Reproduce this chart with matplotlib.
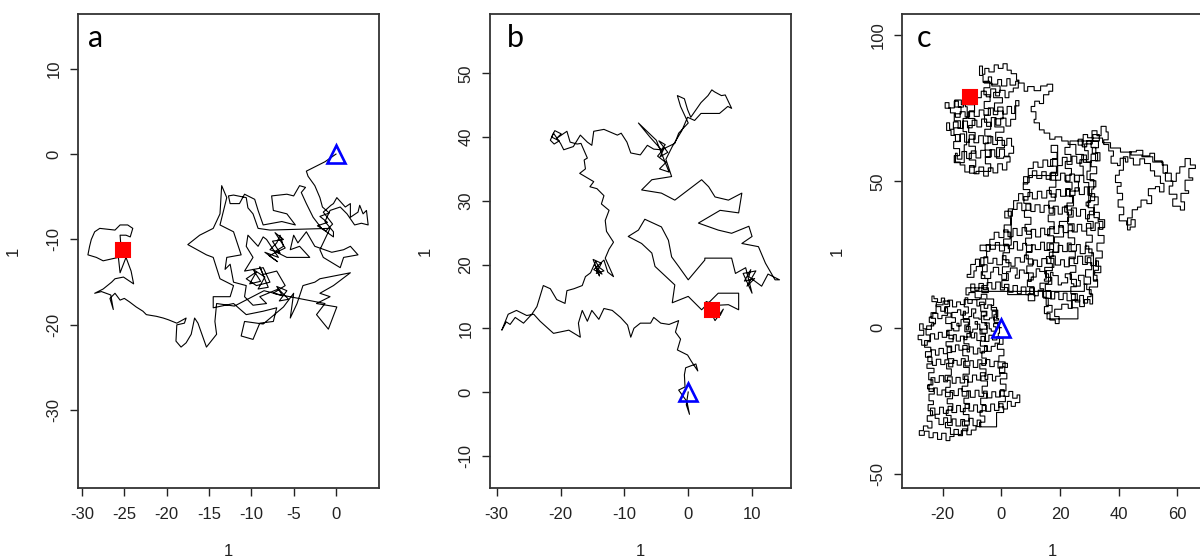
import numpy as np
import matplotlib
matplotlib.use("Agg")
import matplotlib.pyplot as plt

plt.rcParams["axes.unicode_minus"] = False

# ---- data (x, y) ----
walk_a = [
    (0, 0), (-1.3, -0.9), (-3.5, -2.0), (-3.3, -2.6), (-2.5, -3.7), (-1.9, -5.1), (-1.6, -6.2),
    (-0.8, -6.9), (-1.9, -7.3), (-1.0, -8.0), (-2.2, -8.4), (-1.2, -9.0), (-0.4, -8.2),
    (-1.5, -6.8), (-0.6, -6.0),
    (-0.3, -5.8), (0.1, -5.1), (1.1, -6.2), (1.7, -5.8), (1.7, -7.4), (2.6, -6.8), (2.8, -6.0),
    (3.2, -7.0), (3.6, -6.6), (3.8, -8.3), (3.0, -8.1), (2.2, -8.3), (1.3, -7.0), (0.5, -6.2),
    (-0.7, -6.6), (-1.3, -7.9), (-0.3, -9.1), (-0.3, -9.7), (-1.7, -8.7), (-2.7, -7.4),
    (-3.5, -5.8), (-4.1, -4.5), (-3.6, -3.9), (-4.3, -3.7), (-5.0, -4.9), (-5.8, -4.7),
    (-7.6, -4.9), (-7.4, -6.6), (-5.8, -7.0), (-4.8, -8.3), (-6.4, -7.9), (-8.6, -8.3),
    (-9.2, -6.6), (-9.6, -5.3), (-10.8, -4.7), (-11.4, -5.8), (-12.5, -5.8), (-12.7, -4.9),
    (-12.1, -4.8), (-10.6, -5.1), (-10.4, -6.3), (-9.8, -7.0), (-9.2, -8.7), (-7.8, -8.9),
    (-0.7, -8.7), (-1.9, -11.2), (-1.5, -12.1), (0.5, -13.3), (0.9, -12.1), (2.6, -11.8),
    (1.7, -10.8), (0.9, -11.2), (-0.5, -11.5), (-2.5, -10.8), (-3.5, -9.1), (-4.5, -10.4),
    (-5.0, -9.5), (-5.4, -11.2), (-4.3, -10.8), (-3.1, -12.1), (-5.8, -12.1), (-7.2, -11.4),
    (-6.2, -10.8), (-6.6, -9.5), (-7.0, -10.4), (-7.8, -11.2),
    (-6.6, -11.6), (-7.5, -10.2), (-6.2, -10.0), (-7.2, -9.2), (-6.0, -11.0), (-7.9, -11.9),
    (-6.9, -12.6), (-8.4, -11.5),
    (-6.8, -12.1), (-8.2, -10.0),
    (-8.6, -9.7), (-9.2, -10.8), (-10.4, -9.5), (-10.6, -10.8), (-9.8, -12.1), (-10.8, -13.7),
    (-8.6, -13.3), (-7.8, -15.0), (-9.4, -15.4), (-10.6, -14.6),
    (-9.4, -13.8), (-10.2, -15.2), (-8.9, -14.9), (-9.8, -13.5), (-8.4, -14.4), (-9.2, -15.8),
    (-8.0, -15.6), (-9.0, -13.2),
    (-8.6, -14.1), (-7.0, -13.7), (-6.0, -15.4), (-7.4, -16.3),
    (-6.3, -16.6), (-7.0, -15.5), (-5.8, -16.0), (-6.7, -17.2), (-5.6, -17.0), (-6.8, -15.8),
    (-9.0, -16.7), (-8.2, -17.5), (-9.8, -17.7), (-10.8, -16.7),
    (-10.6, -15.4), (-12.1, -15.0), (-12.5, -12.9), (-13.1, -13.5), (-12.9, -12.1),
    (-11.2, -11.8), (-12.1, -9.1), (-13.7, -8.3), (-12.9, -5.1), (-13.5, -3.7), (-13.7, -7.0),
    (-14.5, -8.7), (-16.1, -9.5), (-17.5, -10.6), (-15.3, -11.8), (-14.5, -12.1),
    (-13.7, -14.6), (-12.1, -15.4), (-12.5, -16.7), (-14.5, -16.7), (-14.5, -18.0),
    (-12.1, -17.5), (-10.6, -18.8), (-8.6, -18.4), (-7.0, -18.0), (-7.4, -19.6), (-9.0, -19.8),
    (-9.8, -21.7), (-11.2, -21.3), (-10.8, -19.6), (-8.6, -19.9), (-6.2, -17.9), (-5.0, -16.3),
    (-5.4, -19.2), (-4.6, -17.5), (-3.9, -15.4), (-2.5, -15.0), (-1.9, -14.6), (1.7, -13.9),
    (-0.3, -15.4), (-1.9, -16.3), (-0.7, -16.7), (-2.3, -17.5), (0.1, -17.9), (-0.9, -20.5),
    (-2.3, -18.8), (-1.3, -17.5), (-6.5, -16.5), (-8.5, -16.0), (-12.0, -17.8),
    (-14.1, -17.5), (-14.3, -19.6), (-14.1, -21.1), (-15.3, -22.6), (-15.9, -20.9),
    (-16.3, -19.8), (-16.7, -19.2), (-17.1, -21.1), (-17.7, -22.1), (-18.3, -22.6),
    (-18.9, -21.9), (-18.8, -20.0), (-17.9, -19.8), (-17.7, -19.2), (-18.8, -19.8),
    (-19.8, -19.4), (-20.4, -19.2), (-21.2, -19.0), (-22.4, -18.8), (-22.8, -18.4),
    (-23.6, -17.9), (-24.4, -17.3), (-25.0, -16.9), (-25.5, -17.1), (-26.1, -16.3),
    (-26.7, -16.9), (-26.3, -18.2), (-26.6, -16.5), (-27.7, -16.1), (-28.5, -16.3),
    (-27.5, -15.8), (-26.5, -15.0), (-26.1, -14.6), (-25.1, -14.4), (-23.9, -15.2),
    (-24.2, -13.7), (-24.8, -12.1), (-25.5, -13.9), (-25.7, -12.1), (-27.5, -12.5),
    (-28.3, -12.1), (-29.3, -11.8), (-29.1, -10.8), (-28.9, -10.0), (-28.5, -9.1),
    (-27.9, -8.7), (-26.1, -8.9), (-25.5, -8.3), (-24.6, -8.3), (-24.0, -8.7), (-24.3, -9.7),
    (-24.8, -9.5), (-25.5, -9.5), (-25.4, -10.8), (-25.2, -11.2),
]

walk_b = [
    (0, 0), (-0.3, -2), (0.2, -3.5), (-0.2, -1.5), (-1.5, 0.3), (-0.5, 0.8), (-0.6, 2.7),
    (-0.4, 3.8), (1.2, 4.4), (1.5, 3.3), (0.5, 4.8), (-0.1, 5.8), (-1.7, 6.6), (-1.2, 8.3),
    (-2.0, 9.4), (-1.5, 11.2), (-3.0, 10.6), (-4.3, 10.8), (-5.4, 11.7), (-5.9, 10.8),
    (-7.5, 10.8), (-8.5, 10.0), (-9.0, 8.6), (-9.5, 10.5), (-10.6, 11.7), (-11.9, 12.8),
    (-13.2, 13.1), (-14.0, 11.4), (-15.1, 12.8), (-15.8, 11.1), (-16.6, 12.8), (-17.2, 10.8),
    (-16.9, 8.6), (-18.7, 9.7), (-21.1, 9.2), (-23.2, 11.1), (-24.2, 12.2), (-25.3, 12.0),
    (-26.9, 12.8), (-28.2, 12.2), (-29.2, 9.7), (-28.5, 11.0), (-27.9, 10.6), (-27.1, 11.7),
    (-25.8, 10.8), (-24.5, 12.2), (-23.7, 13.4), (-22.7, 16.7), (-21.6, 16.2), (-20.6, 14.5),
    (-19.3, 13.9), (-19.0, 15.9), (-17.9, 16.2), (-16.6, 16.7), (-16.1, 18.1), (-15.3, 18.7),
    (-14.5, 20.5), (-14.0, 19.6), (-13.2, 19.0), (-14.4, 18.6), (-13.6, 20.2), (-14.9, 20.8),
    (-13.9, 18.2), (-14.6, 19.9), (-13.5, 18.5), (-14.8, 19.2), (-13.2, 20.7), (-12.6, 18.8),
    (-11.7, 18.1), (-13.0, 21.0), (-12.4, 22.4), (-11.7, 23.5), (-12.8, 25.2), (-13.0, 26.9),
    (-12.4, 28.5), (-13.6, 29.5), (-13.2, 30.8), (-14.3, 31.9), (-15.4, 32.2), (-14.8, 33.0),
    (-17.0, 34.3), (-16.1, 35.0), (-16.3, 36.4), (-15.8, 36.7), (-16.8, 39.0), (-17.4, 38.9),
    (-18.5, 39.2), (-19.0, 40.9), (-20.6, 39.8), (-19.9, 40.5), (-20.9, 41.0), (-21.4, 40.0),
    (-20.2, 39.4), (-21.0, 38.9), (-21.6, 39.5), (-21.1, 40.6), (-20.0, 39.0),
    (-19.5, 38.0), (-18.0, 38.5), (-16.9, 40.3), (-15.8, 39.2), (-15.1, 38.7), (-14.8, 40.9),
    (-13.2, 41.2), (-11.1, 40.3), (-10.5, 40.6), (-9.6, 39.2), (-9.0, 37.5), (-7.5, 37.2),
    (-6.4, 38.7), (-5.4, 38.1), (-4.2, 38.0), (-3.6, 38.8), (-4.6, 39.4), (-3.2, 37.6),
    (-4.4, 36.9), (-3.8, 38.2), (-4.8, 37.0), (-3.5, 36.0), (-4.5, 35.0),
    (-3.0, 34.5), (-5.0, 39.5), (-7.8, 42.2), (-6.0, 40.0), (-4.2, 38.0), (-2.1, 39.0),
    (-1.5, 40.6), (0.0, 42.2), (-1.2, 44.8), (-1.7, 46.5), (-0.6, 46.0), (-0.1, 44.3),
    (0.4, 43.1), (2.0, 45.4), (3.1, 46.5), (3.7, 47.4), (4.1, 47.1), (5.2, 46.5), (5.8, 46.6),
    (6.8, 44.5), (6.2, 44.8), (4.9, 43.7), (2.0, 43.7), (1.0, 42.6), (-0.1, 43.1), (-1.0, 41.0),
    (-2.5, 38.5), (-3.5, 36.5), (-2.6, 33.8), (-5.7, 33.3), (-7.3, 31.7), (-4.2, 31.2),
    (-2.1, 30.1), (0.0, 31.7), (2.1, 33.3), (3.2, 32.2), (4.2, 30.6), (6.3, 30.1), (8.4, 31.2),
    (7.9, 28.1), (5.0, 28.5), (1.6, 26.5), (4.7, 25.4), (6.8, 24.9), (9.5, 26.0), (10.0, 24.4),
    (8.4, 23.3), (11.0, 22.8), (12.1, 20.2), (13.6, 17.6), (14.3, 17.6), (12.5, 18.5),
    (11.5, 16.6), (9.5, 18.1), (9.8, 19.2), (8.8, 17.4), (10.4, 17.8), (9.2, 16.6),
    (10.6, 19.0), (8.6, 18.6), (10.0, 15.5), (9.0, 19.5), (7.4, 18.6), (6.8, 21.0), (2.6, 21.0),
    (2.6, 20.7), (0.0, 17.6), (-1.5, 19.7), (-2.6, 21.2), (-3.1, 23.8), (-4.2, 25.9),
    (-6.8, 27.1), (-7.8, 25.4), (-9.4, 24.4), (-7.3, 23.3), (-5.7, 21.8), (-5.2, 19.7),
    (-2.1, 16.8), (-2.5, 14.0), (0.0, 15.0), (2.1, 12.9), (4.7, 15.5), (7.9, 15.5), (7.9, 12.9),
    (6.3, 13.7), (4.5, 13.6), (2.8, 14.2), (3.2, 11.8), (4.8, 12.2), (3.0, 13.6), (4.2, 11.2),
    (5.5, 13.0), (5.0, 12.0), (3.7, 12.8),
]

# panel c is a lattice walk: corners of its horizontal/vertical steps
walk_c = [
    # lower-left blob, east-west passes
    (0, 0), (-1.2, 1.4), (-2.6, 0.3), (-1.8, -1.2), (-3.4, -0.4), (-4.1, 1.6), (-5.5, 0.8),
    (-4.8, -1.9), (-6.6, -0.7), (-7.3, 1.2), (-8.9, 2.1), (-8.1, -0.5), (-9.7, -1.6),
    (-10.6, 0.4), (-11.9, -0.8), (-11.2, 1.9), (-12.8, 2.8), (-13.7, 0.6), (-15.1, 1.5),
    (-14.4, -1.1), (-16.2, -0.3), (-17.0, 1.8),
    (-15.6, 3.4), (-16.8, 5.2), (-14.9, 6.1), (-13.8, 4.3), (-12.2, 5.6), (-12.9, 3.1),
    (-11.0, 3.8), (-10.1, 6.4), (-8.7, 5.0), (-9.4, 3.3), (-7.6, 2.9), (-6.8, 5.4), (-5.1, 4.2),
    (-5.9, 2.7), (-4.0, 3.3), (-3.1, 5.6), (-1.8, 4.4), (-2.5, 2.6), (-0.9, 3.1),
    (-1.6, 6.9), (-3.3, 7.8), (-4.6, 6.6), (-5.8, 8.7), (-7.4, 7.4), (-8.3, 9.6), (-9.9, 8.3),
    (-11.4, 10.2), (-12.3, 7.9), (-13.9, 8.8), (-15.2, 7.1), (-16.6, 9.4), (-18.1, 8.0),
    (-19.3, 10.1), (-20.4, 8.6), (-21.7, 9.9), (-22.9, 10.8), (-23.6, 8.9), (-22.1, 7.2),
    (-20.6, 5.6), (-19.1, 6.8), (-18.3, 4.2), (-20.2, 3.1), (-21.6, 4.9), (-23.3, 3.6),
    (-24.5, 1.8), (-23.0, 0.6), (-25.4, -0.4), (-26.6, 1.3), (-27.8, -0.9), (-26.4, -2.6),
    (-28.3, -4.1), (-27.1, -6.0), (-25.2, -4.8),
    (-24.1, -2.1), (-22.7, -3.9), (-21.4, -1.6), (-20.1, -3.3), (-18.6, -1.2), (-17.8, -3.8),
    (-16.2, -2.4), (-15.3, -4.6), (-13.9, -2.9), (-12.6, -4.1), (-11.7, -2.0), (-10.2, -3.5),
    (-9.1, -1.8), (-8.3, -4.4), (-6.9, -3.0), (-5.6, -4.7), (-4.2, -2.6), (-3.0, -4.2),
    (-1.5, -3.1), (-0.6, -5.3),
    (-2.1, -6.4), (-3.4, -8.1), (-4.8, -6.2), (-5.7, -8.6), (-7.2, -7.0), (-8.0, -9.0),
    (-9.5, -6.6), (-10.8, -8.3), (-11.6, -6.1), (-13.1, -7.7), (-14.4, -5.9), (-15.6, -8.2),
    (-17.1, -6.6), (-18.4, -8.9), (-19.7, -7.1), (-21.2, -9.4), (-22.4, -7.6), (-23.8, -9.8),
    (-25.0, -11.6),
    (-23.4, -12.9), (-22.1, -10.8), (-20.6, -12.6), (-19.2, -11.0), (-17.9, -13.4),
    (-16.5, -11.2), (-15.0, -12.8), (-13.6, -10.6), (-12.3, -13.1), (-10.7, -11.3),
    (-9.5, -13.6), (-8.0, -11.0), (-6.6, -12.9), (-5.3, -10.9), (-3.9, -13.3), (-2.4, -11.5),
    (-1.1, -13.8), (0.5, -12.2), (2.1, -13.6), (1.2, -15.4),
    (-0.4, -16.6), (-1.9, -18.2), (-3.0, -16.0), (-4.6, -17.7), (-5.5, -15.4), (-7.1, -17.9),
    (-8.4, -16.2), (-9.8, -18.6), (-11.3, -16.5), (-12.5, -18.9), (-14.0, -17.0),
    (-15.4, -19.0), (-16.7, -16.8), (-18.3, -18.5), (-19.6, -16.4), (-21.1, -18.7),
    (-22.6, -17.1), (-23.9, -19.4), (-24.6, -21.8),
    (-23.1, -20.6), (-21.8, -23.0), (-20.2, -21.3), (-19.0, -23.6), (-17.4, -21.5),
    (-16.1, -23.2), (-14.6, -20.9), (-13.3, -23.4), (-11.7, -21.6), (-10.5, -23.8),
    (-8.9, -21.4), (-7.6, -23.5), (-6.0, -21.7), (-4.8, -24.0), (-3.2, -21.9), (-1.9, -23.7),
    (-0.3, -21.2), (1.0, -23.5), (2.6, -21.8), (3.9, -24.1), (5.4, -23.0), (6.3, -25.6),
    (4.8, -26.9), (3.4, -25.2), (2.1, -27.8), (0.6, -26.0), (-0.8, -28.3), (-2.3, -26.1),
    (-3.6, -28.6), (-5.2, -26.6), (-6.5, -28.9), (-8.1, -26.4), (-9.4, -28.5), (-11.0, -26.2),
    (-12.3, -28.7), (-13.9, -26.6), (-15.2, -29.0), (-16.8, -26.9), (-18.1, -29.3),
    (-19.7, -27.2), (-21.0, -29.6), (-22.6, -27.5), (-24.1, -29.9),
    (-22.5, -31.0), (-21.2, -33.1), (-19.6, -30.8), (-18.3, -33.4), (-16.7, -31.2),
    (-15.4, -33.6), (-13.8, -31.4), (-12.5, -33.3), (-10.9, -31.0), (-9.6, -33.5),
    (-8.2, -31.6), (-7.0, -33.8),
    (-8.6, -35.0), (-10.2, -36.6), (-11.7, -34.6), (-13.2, -36.9), (-14.6, -34.8),
    (-16.1, -37.2), (-17.5, -38.6), (-18.8, -36.1), (-20.3, -38.2), (-21.7, -35.9),
    (-23.2, -37.6), (-24.6, -35.4), (-26.2, -36.8), (-27.9, -35.2), (-26.5, -33.6),
    (-25.0, -34.3),
    # lower-left blob, north-south passes
    (-23.6, -32.0), (-25.2, -30.1), (-23.4, -28.4), (-24.9, -26.3), (-23.1, -25.0),
    (-24.6, -22.7), (-22.8, -20.9), (-25.1, -19.6), (-23.3, -17.8), (-24.7, -15.4),
    (-22.9, -13.9), (-25.3, -12.4), (-23.6, -10.1), (-25.8, -8.2), (-24.0, -6.7),
    (-26.1, -4.4), (-24.3, -2.5), (-25.6, -0.6), (-23.8, 1.3), (-22.4, 3.2), (-23.9, 5.1),
    (-22.2, 7.8),
    (-19.8, 9.1), (-17.6, 7.2), (-19.2, 5.0), (-17.1, 3.6), (-18.9, 1.4), (-16.8, -0.9),
    (-18.5, -2.6), (-16.4, -4.8), (-18.8, -6.3), (-16.9, -8.5), (-18.3, -10.6), (-16.2, -12.2),
    (-18.6, -14.1), (-17.0, -16.3), (-19.1, -18.0), (-17.4, -20.4), (-18.9, -22.1),
    (-16.6, -24.3), (-18.4, -26.0), (-16.5, -28.2), (-18.7, -30.0), (-17.1, -32.4),
    (-19.0, -34.2), (-17.3, -36.5),
    (-13.6, -35.2), (-11.4, -33.6), (-13.2, -31.9), (-11.0, -29.7), (-12.9, -27.6),
    (-10.8, -25.9), (-12.7, -24.1), (-11.1, -21.8), (-13.3, -20.0), (-11.4, -17.7),
    (-13.0, -15.9), (-10.9, -13.6), (-12.8, -11.5), (-11.2, -9.6), (-13.1, -7.4),
    (-11.0, -5.5), (-12.7, -3.2), (-10.6, -1.4), (-12.4, 0.9), (-10.8, 2.8), (-12.9, 5.0),
    (-11.2, 7.1), (-12.6, 9.6),
    (-7.4, 9.8), (-5.3, 7.9), (-7.0, 5.6), (-4.9, 4.0), (-6.7, 1.7), (-5.0, -0.5), (-7.2, -2.2),
    (-5.4, -4.6), (-7.1, -6.3), (-4.8, -8.1), (-6.6, -10.4), (-5.1, -12.3), (-7.3, -14.1),
    (-5.2, -16.5), (-6.9, -18.2), (-4.7, -20.0), (-6.5, -22.4), (-4.9, -24.1), (-7.0, -26.3),
    (-5.3, -28.4), (-7.2, -30.2), (-5.6, -32.3), (-7.4, -33.9),
    (-1.6, -29.0), (0.8, -27.1), (-0.9, -25.3), (1.4, -23.4), (-0.5, -21.6), (1.6, -19.3),
    (-0.3, -17.5), (1.9, -15.6), (-0.6, -13.4), (1.3, -11.7), (-0.8, -9.6), (0.9, -7.4),
    (-1.3, -5.7), (0.6, -3.6), (-1.0, -1.9),
    (-0.6, 1.8), (-2.4, 3.6), (-1.2, 6.0), (-3.4, 7.6), (-2.6, 9.8), (-4.9, 11.4), (-6.8, 10.2),
    (-8.9, 12.0), (-11.0, 11.2), (-12.0, 13.6),
    # diagonal band, north-south passes
    (-4.4, 12.0), (-6.6, 14.4), (-4.6, 16.8), (-6.8, 19.1), (-4.8, 21.5), (-7.0, 23.9),
    (-5.0, 26.3), (-7.2, 28.2),
    (3.4, 39.8), (1.2, 37.5), (3.2, 35.1), (1.0, 32.7), (3.0, 30.3), (0.8, 28.0), (2.8, 25.6),
    (0.6, 23.2), (2.6, 20.8), (0.4, 18.5), (2.4, 16.1), (0.2, 13.7), (2.2, 11.3),
    (11.4, 9.2), (9.2, 11.6), (11.1, 14.0), (8.9, 16.3), (10.9, 18.7), (8.7, 21.1), (10.7, 23.5),
    (8.5, 25.8), (10.5, 28.2), (8.3, 30.6), (10.3, 33.0), (8.1, 35.3), (10.1, 37.7),
    (7.9, 40.1), (9.9, 42.5), (7.7, 44.8), (9.7, 47.2), (7.5, 49.6), (9.5, 52.0),
    (19.2, 62.3), (17.0, 59.9), (19.0, 57.5), (16.8, 55.2), (18.8, 52.8), (16.6, 50.4),
    (18.6, 48.0), (16.4, 45.7), (18.4, 43.3), (16.2, 40.9), (18.2, 38.5), (16.0, 36.2),
    (18.0, 33.8), (15.8, 31.4), (17.8, 29.0), (15.6, 26.7), (17.6, 24.3), (15.4, 21.9),
    (17.4, 19.5), (15.2, 17.2), (17.2, 14.8), (15.0, 12.4), (17.0, 10.0), (15.3, 7.6),
    (17.3, 5.3), (15.6, 3.0),
    (26.1, 6.8), (24.0, 9.4), (25.9, 11.6), (23.7, 14.0), (25.6, 16.5), (23.5, 18.9),
    (25.4, 21.2), (23.2, 23.6), (25.2, 26.0), (23.0, 28.4), (25.0, 30.7), (22.8, 33.1),
    (24.8, 35.5), (22.6, 37.8), (24.5, 40.2), (22.4, 42.6), (24.3, 45.0), (22.2, 47.3),
    (24.1, 49.7), (22.0, 52.1), (23.9, 54.4), (21.8, 56.8), (23.7, 59.2), (21.7, 61.6),
    (23.4, 63.8),
    (33.4, 66.0), (31.2, 63.7), (33.1, 61.5), (31.0, 59.6), (32.8, 57.1), (30.6, 55.0),
    (32.5, 52.6), (30.3, 50.2), (32.2, 48.1), (29.9, 45.8), (31.8, 43.4), (29.6, 41.0),
    (31.6, 38.6), (29.4, 36.3), (31.3, 34.0), (29.1, 31.6), (31.0, 29.2), (28.8, 26.9),
    (30.9, 24.5), (28.6, 22.2), (30.8, 19.8), (28.7, 17.3), (30.4, 14.9), (28.3, 12.4),
    # diagonal band, east-west passes
    (-10.4, 14.9), (-9.0, 12.8), (-7.6, 15.1), (-6.1, 13.0), (-4.8, 15.4), (-3.2, 13.2),
    (-1.9, 15.6), (-0.3, 12.9), (1.1, 14.8), (2.6, 12.1), (4.0, 14.4), (5.5, 11.6), (6.8, 13.9),
    (8.4, 11.3), (9.7, 13.6), (11.2, 10.9), (12.6, 12.8), (14.1, 10.4), (15.3, 12.6),
    (16.8, 9.8), (18.2, 12.1), (19.6, 9.6), (21.1, 11.8), (22.4, 9.2), (23.9, 11.5),
    (25.2, 8.8), (26.7, 11.0), (28.0, 8.4), (29.4, 10.6), (30.6, 13.0),
    (29.1, 14.8), (28.2, 17.9), (26.3, 16.1), (26.9, 14.2), (24.7, 15.0), (23.9, 18.4),
    (21.8, 17.1), (22.6, 15.3), (20.5, 14.6), (19.4, 17.8), (17.6, 18.9), (16.8, 15.9),
    (14.7, 16.6), (15.3, 19.2), (13.1, 20.1), (11.9, 17.3), (10.2, 15.8), (9.3, 18.6),
    (7.8, 19.7), (6.2, 16.9), (4.8, 18.0), (5.4, 20.4), (3.1, 19.1), (1.8, 16.5), (0.2, 18.1),
    (-0.9, 20.6), (-2.7, 19.0), (-3.6, 16.8), (-5.6, 17.9), (-6.4, 20.9), (-8.5, 19.4),
    (-9.3, 17.2), (-11.6, 18.2),
    (-10.4, 21.6), (-8.8, 23.4), (-7.4, 21.1), (-5.9, 24.2), (-4.6, 22.0), (-2.8, 23.7),
    (-1.5, 21.5), (0.4, 24.6), (1.6, 22.2), (3.3, 21.0), (4.7, 23.9), (6.5, 22.4), (7.9, 24.8),
    (9.2, 21.7), (11.0, 23.1), (12.3, 20.9), (13.8, 23.6), (15.6, 22.0), (16.9, 24.5),
    (18.4, 21.4), (20.2, 23.2), (21.5, 20.8), (23.1, 24.1), (24.8, 21.9), (26.0, 24.4),
    (27.7, 21.6), (29.3, 23.9), (30.5, 21.2), (32.3, 22.8), (33.1, 19.6), (31.8, 17.9),
    (32.6, 15.9),
    (31.4, 25.6), (29.8, 27.9), (28.6, 25.3), (26.9, 28.4), (25.6, 26.2), (23.8, 28.9),
    (22.5, 26.0), (20.9, 28.1), (19.4, 25.7), (17.8, 28.6), (16.5, 26.4), (14.7, 29.2),
    (13.4, 26.7), (11.6, 28.3), (10.3, 25.9), (8.6, 28.8), (7.3, 26.5), (5.5, 29.4), (4.2, 27.0),
    (2.4, 28.5), (1.1, 26.2), (-0.6, 29.1), (-2.0, 26.8), (-3.7, 28.4), (-5.1, 26.1),
    (-3.9, 30.2), (-2.4, 32.6), (-0.8, 30.8), (0.9, 33.4), (2.3, 31.1), (4.0, 33.9), (5.4, 31.5),
    (7.1, 34.2), (8.6, 31.9), (10.2, 33.6), (11.7, 31.0), (13.4, 34.0), (14.8, 31.8),
    (16.5, 34.5), (18.0, 32.2), (19.6, 34.9), (21.1, 32.5), (22.8, 35.1), (24.2, 32.7),
    (25.9, 35.3), (27.4, 33.0), (29.0, 35.6), (30.5, 33.2), (32.0, 35.8), (33.4, 33.6),
    (34.6, 36.3),
    (33.0, 37.6), (31.6, 39.8), (30.0, 37.2), (28.7, 40.4), (27.0, 38.1), (25.6, 40.9),
    (23.9, 38.5), (22.5, 41.2), (20.8, 38.8), (19.4, 41.5), (17.7, 39.1), (16.3, 41.8),
    (14.6, 39.4), (13.2, 42.0), (11.5, 39.7), (10.1, 42.3), (8.4, 40.0), (7.0, 42.6),
    (5.4, 40.4), (3.8, 38.1), (2.4, 40.6),
    (4.2, 43.4), (5.9, 45.8), (7.4, 43.6), (9.1, 46.2), (10.6, 44.0), (12.3, 46.6), (13.8, 44.3),
    (15.5, 46.9), (17.0, 44.6), (18.7, 47.2), (20.2, 44.9), (21.9, 47.5), (23.4, 45.2),
    (25.1, 47.8), (26.6, 45.5), (28.3, 48.1), (29.5, 45.3), (30.4, 42.9), (28.9, 41.6),
    (29.8, 49.6), (28.1, 52.0), (26.6, 49.8), (24.9, 52.5), (23.4, 50.1), (21.7, 52.8),
    (20.2, 50.4), (18.5, 53.1), (17.0, 50.7), (15.3, 53.3), (13.8, 51.0), (12.1, 53.6),
    (10.6, 51.3), (9.0, 49.1), (7.6, 51.6),
    (9.2, 54.4), (10.9, 56.6), (12.5, 54.8), (14.2, 57.3), (15.8, 55.1), (17.5, 57.8),
    (19.1, 55.4), (20.8, 58.2), (22.4, 55.8), (24.1, 58.6), (25.7, 56.2), (27.4, 59.0),
    (29.0, 56.6), (30.6, 59.3), (32.1, 57.0), (33.6, 59.8),
    (32.2, 61.6), (30.6, 63.9), (29.1, 61.8), (27.6, 64.4), (26.2, 62.4), (27.9, 66.0),
    (29.4, 64.9), (30.9, 67.3), (32.6, 65.6), (34.0, 68.8), (35.7, 66.9), (36.4, 64.2),
    (34.9, 62.6), (36.6, 60.4),
    # right lobe
    (38.2, 58.6), (37.4, 56.2), (39.6, 55.4), (40.5, 57.9), (42.3, 56.6), (43.1, 58.4),
    (41.6, 53.8), (40.2, 52.1), (38.9, 49.6), (40.8, 48.3), (39.5, 45.9), (41.3, 43.7),
    (39.8, 41.2), (41.7, 38.6), (40.2, 36.5), (42.7, 35.1), (44.2, 36.9), (45.6, 34.4),
    (43.9, 33.4), (43.0, 37.5), (44.6, 40.3), (46.4, 41.2), (47.6, 43.6), (49.6, 42.4),
    (51.2, 45.1), (50.1, 47.5), (52.5, 48.2), (53.9, 46.4), (55.4, 49.3), (54.2, 51.8),
    (52.2, 53.6), (50.8, 56.1), (48.8, 57.7), (47.2, 55.6), (45.0, 57.9), (43.8, 60.1),
    (46.0, 60.6), (48.2, 58.7), (50.6, 59.6), (52.2, 57.0), (54.8, 55.6), (56.6, 53.0),
    (55.9, 50.1), (58.4, 48.4), (57.2, 45.6), (59.8, 44.0), (58.4, 41.5), (61.0, 40.2),
    (62.4, 43.0), (61.2, 45.9), (63.8, 46.8), (62.6, 50.4), (65.2, 51.2), (63.9, 54.4),
    (66.1, 55.6), (64.4, 57.8), (62.6, 55.0), (60.8, 52.8), (59.6, 50.0), (57.9, 52.8),
    (55.1, 56.6), (51.6, 58.4), (47.9, 59.0), (44.2, 60.0), (40.6, 61.4), (37.2, 63.2),
    # band again, down the middle and up the right edge
    (34.5, 64.8), (31.0, 62.8), (28.4, 60.5), (29.6, 57.4), (26.8, 55.2), (27.9, 52.1),
    (25.0, 50.0), (26.3, 46.7), (23.3, 44.8), (24.6, 41.6), (21.6, 39.5), (22.9, 36.3),
    (19.8, 34.4), (21.2, 31.0), (18.1, 29.0), (19.6, 25.8), (16.4, 23.7), (17.9, 20.6),
    (14.8, 18.4), (16.1, 15.2), (13.2, 13.3), (14.4, 10.1), (16.0, 7.2), (14.7, 4.8),
    (16.6, 2.6), (18.4, 1.4), (19.7, 3.8), (18.2, 6.3), (20.6, 8.0), (22.8, 6.6), (24.1, 9.4),
    (26.7, 7.2), (28.3, 9.6), (30.2, 8.1), (31.1, 11.5), (30.0, 13.9), (32.8, 16.3),
    (31.4, 18.8), (33.9, 21.0), (32.2, 23.8), (34.4, 26.2), (32.6, 28.9), (35.0, 31.5),
    (33.0, 34.2), (35.2, 36.9), (33.4, 39.4), (31.6, 42.0), (33.0, 44.7), (30.8, 47.4),
    (31.5, 50.6), (29.2, 53.5), (30.3, 56.5), (28.0, 59.2),
    # thin link to the upper-left lobe
    (25.4, 62.6), (22.8, 63.8), (20.6, 65.2), (18.3, 64.4), (16.5, 66.5), (14.6, 67.6),
    (13.0, 70.0), (11.2, 71.2), (11.8, 73.8), (10.2, 75.6), (11.4, 77.4), (13.0, 76.6),
    (14.4, 79.6), (16.2, 80.8), (17.5, 83.2), (15.6, 82.6), (13.4, 81.0), (11.2, 82.4),
    (9.0, 80.8), (7.8, 83.6), (6.0, 84.6), (5.2, 86.8), (3.4, 88.0), (2.0, 90.2), (0.6, 88.6),
    (-1.0, 89.8), (-2.4, 87.4), (-4.2, 88.6), (-5.6, 86.6), (-6.4, 89.4),
    # upper-left lobe
    (-7.4, 86.2), (-6.2, 83.9), (-4.4, 85.7), (-3.3, 83.2), (-1.2, 84.8), (0.1, 82.6),
    (1.9, 85.1), (3.0, 82.9), (4.9, 84.2), (5.8, 81.9),
    (4.1, 80.6), (2.6, 78.6), (1.3, 81.1), (-0.6, 79.2), (-1.9, 81.6), (-3.6, 78.9),
    (-5.1, 80.8), (-6.8, 78.6), (-8.2, 80.6), (-9.6, 78.2), (-11.3, 77.1), (-12.9, 75.4),
    (-14.6, 77.4), (-16.0, 75.1), (-17.8, 76.9), (-19.1, 75.0), (-17.3, 73.4), (-15.6, 71.9),
    (-14.0, 73.8), (-12.3, 72.0), (-10.8, 74.1), (-9.2, 72.2), (-7.5, 74.4), (-5.9, 72.6),
    (-4.4, 75.1), (-2.7, 72.8), (-1.2, 75.4), (0.6, 73.0), (2.0, 75.6), (3.5, 73.2),
    (4.6, 75.8), (6.0, 77.6),
    (4.9, 71.2), (3.2, 68.9), (1.6, 71.6), (-0.2, 69.2), (-1.8, 71.8), (-3.4, 68.8),
    (-5.0, 71.3), (-6.7, 68.6), (-8.3, 70.9), (-9.9, 68.3), (-11.5, 70.6), (-13.1, 68.1),
    (-14.7, 70.3), (-16.3, 67.8), (-17.6, 70.0), (-18.6, 67.4),
    (-17.1, 65.7), (-15.6, 63.7), (-14.0, 66.2), (-12.5, 63.4), (-10.9, 65.9), (-9.3, 63.2),
    (-7.7, 65.6), (-6.1, 62.9), (-4.5, 65.3), (-2.9, 62.6), (-1.3, 65.0), (0.3, 62.3),
    (1.9, 64.7), (3.5, 62.0), (4.2, 59.6),
    (2.6, 58.6), (1.1, 61.0), (-0.6, 58.4), (-2.2, 60.8), (-3.8, 58.2), (-5.4, 60.6),
    (-7.0, 58.0), (-8.6, 60.4), (-10.2, 57.8), (-11.8, 60.2), (-13.4, 57.6), (-15.0, 59.6),
    (-15.6, 56.6),
    (-14.0, 55.6), (-12.4, 53.2), (-10.8, 55.4), (-9.2, 52.6), (-7.6, 54.9), (-6.0, 51.8),
    (-4.4, 54.6), (-2.8, 52.9), (-1.2, 56.0), (0.4, 53.9), (1.9, 56.6), (3.0, 58.4),
    (0.8, 57.9), (-1.6, 61.5), (1.1, 64.0), (-1.9, 66.8), (0.9, 68.6), (-2.2, 71.4),
    (0.6, 74.0), (-2.3, 76.8), (0.4, 78.6), (-2.6, 80.4), (-0.4, 82.6), (-3.2, 83.6),
    (-5.8, 84.2), (-3.9, 82.0), (-5.9, 79.6), (-3.8, 77.3), (-5.8, 74.9), (-3.7, 72.6),
    (-5.7, 70.2), (-3.6, 67.8), (-5.6, 65.5), (-3.5, 63.1), (-5.5, 60.7), (-3.4, 58.4),
    (-5.4, 56.0), (-3.6, 53.4),
    (-8.6, 52.8), (-10.8, 54.9), (-8.7, 57.3), (-10.9, 59.6), (-8.8, 62.0), (-11.0, 64.4),
    (-8.9, 66.7), (-11.1, 69.1), (-9.0, 71.5), (-11.2, 73.8), (-9.1, 76.2),
    (-13.6, 77.8), (-15.8, 75.4), (-13.7, 73.1), (-16.0, 70.7), (-13.9, 68.3), (-16.1, 66.0),
    (-14.0, 63.6), (-16.2, 61.2), (-14.2, 58.8), (-16.0, 56.4),
    (-12.6, 62.5), (-11.8, 67.0), (-13.0, 71.5), (-11.6, 75.5), (-12.2, 79.4), (-10.5, 78.7),
]

panel_letters = ["a", "b", "c"]
xticks_list = [[-30, -25, -20, -15, -10, -5, 0], [-30, -20, -10, 0, 10], [-20, 0, 20, 40, 60]]
yticks_list = [[-30, -20, -10, 0, 10], [-10, 0, 10, 20, 30, 40, 50], [-50, 0, 50, 100]]
xlims = [(-30.47, 5.08), (-31.05, 16.1), (-33.8, 68.7)]
ylims = [(-39.1, 16.4), (-15.06, 59.3), (-54.8, 107.2)]
walks = [walk_a, walk_b, walk_c]
draw_styles = ["default", "default", "steps-post"]

# ---- layout ----
fig = plt.figure(figsize=(12, 5.6), dpi=100)
W, H = 1200, 560
lefts_px = [78, 490, 902]
letter_x = [0.033, 0.056, 0.049]
top_px, bot_px, width_px = 14, 488, 301
tick_font = "Liberation Sans"
ink = "#222222"

for i in range(3):
    ax = fig.add_axes([lefts_px[i] / W, 1 - bot_px / H, width_px / W, (bot_px - top_px) / H])
    w = np.array(walks[i])
    ax.plot(w[:, 0], w[:, 1], color="black", lw=0.8, drawstyle=draw_styles[i])
    ax.plot(w[0, 0], w[0, 1], marker="^", ms=12.5, mfc="none", mec="#0000FF", mew=1.9)
    ax.plot(w[-1, 0], w[-1, 1], marker="s", ms=10, mfc="#FF0000", mec="#FF0000", mew=1.5)
    ax.set_xlim(*xlims[i])
    ax.set_ylim(*ylims[i])
    ax.set_xticks(xticks_list[i])
    ax.set_yticks(yticks_list[i])
    ax.tick_params(direction="out", length=6, width=1.0, colors=ink, labelsize=12)
    ax.tick_params(axis="x", pad=8)
    ax.tick_params(axis="y", pad=6, labelrotation=90)
    for lab in ax.get_yticklabels():
        lab.set_verticalalignment("center")
        lab.set_fontfamily(tick_font)
    for lab in ax.get_xticklabels():
        lab.set_fontfamily(tick_font)
    for sp in ax.spines.values():
        sp.set_linewidth(1.3)
        sp.set_color("#333333")
    ax.set_xlabel("1", fontsize=12, family=tick_font, color=ink)
    ax.set_ylabel("1", fontsize=12, family=tick_font, color=ink)
    ax.xaxis.set_label_coords(0.5, -0.118)
    ax.yaxis.set_label_coords(-0.19, 0.5)
    ax.text(letter_x[i], 0.931, panel_letters[i], transform=ax.transAxes,
            fontsize=22, family="Lato", va="baseline", ha="left", color="black")

fig.savefig("out.png", dpi=100)
